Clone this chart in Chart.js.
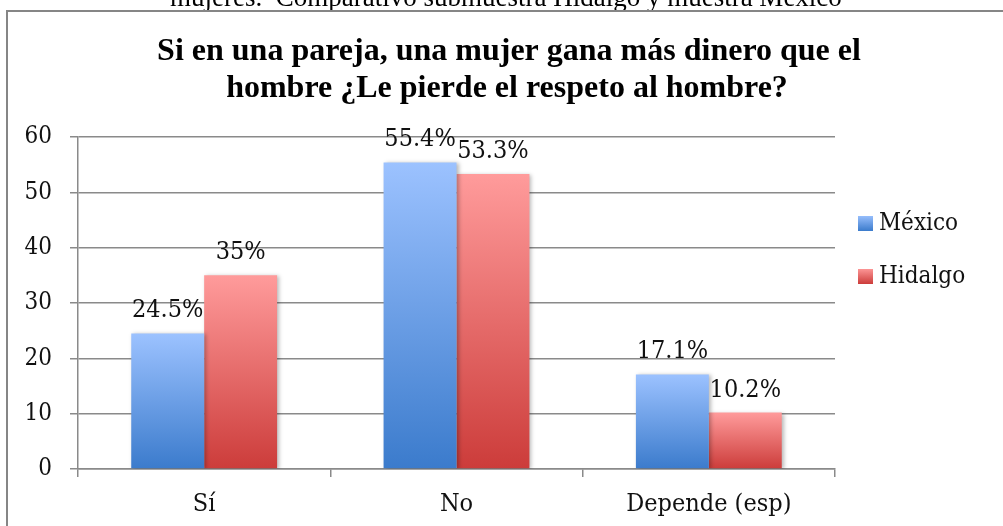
<!DOCTYPE html>
<html>
<head>
<meta charset="utf-8">
<script src="https://cdn.jsdelivr.net/npm/chart.js@4"></script>
<style>
  html, body { margin: 0; padding: 0; background: #fff; }
  #wrap { position: relative; width: 1003px; height: 526px; }
</style>
</head>
<body>
<div id="wrap"><canvas id="chart" width="1003" height="526"></canvas></div>
<script>
// chart data
const categories = ['Sí', 'No', 'Depende (esp)'];
const mexicoValues = [24.5, 55.4, 17.1];
const hidalgoValues = [35, 53.3, 10.2];
const mexicoLabels = ['24.5%', '55.4%', '17.1%'];
const hidalgoLabels = ['35%', '53.3%', '10.2%'];
const yTicks = [0, 10, 20, 30, 40, 50, 60];

const titleLines = ['Si en una pareja, una mujer gana más dinero que el', 'hombre ¿Le pierde el respeto al hombre?'];
const captionText = 'mujeres.  Comparativo submuestra Hidalgo y muestra México';

const SERIF = "'DejaVu Serif Condensed', 'DejaVu Serif', serif";
const colors = {
    mexico: { top: '#9cc2ff', bottom: '#3b7bcc' },
    hidalgo: { top: '#ff9b9b', bottom: '#cc3c3a' },
};

// vertical gradient per bar: light at top, dark at base
function barGradient(key) {
    return (context) => {
        const chart = context.chart;
        if (!chart.chartArea || context.raw == null) return colors[key].top;
        const y = chart.scales.y;
        const top = y.getPixelForValue(context.raw);
        const base = y.getPixelForValue(0);
        const g = chart.ctx.createLinearGradient(0, top, 0, base);
        g.addColorStop(0, colors[key].top);
        g.addColorStop(1, colors[key].bottom);
        return g;
    };
}

const decorPlugin = {
    id: 'decor',
    beforeDraw(chart) {
        const ctx = chart.ctx;
        ctx.save();
        // cut-off caption above the frame
        ctx.fillStyle = '#000';
        ctx.font = "27px 'Liberation Serif', serif";
        ctx.textAlign = 'left';
        ctx.textBaseline = 'alphabetic';
        ctx.fillText(captionText, 170, 6);
        // outer frame (runs off the right and bottom edges)
        ctx.strokeStyle = '#868686';
        ctx.lineWidth = 2;
        ctx.strokeRect(7, 11, 1010, 530);
        // title
        ctx.font = "bold 32px 'Liberation Serif', serif";
        ctx.textAlign = 'center';
        ctx.fillText(titleLines[0], 509, 60);
        ctx.fillText(titleLines[1], 507, 97);
        ctx.restore();
    },
    beforeDatasetDraw(chart) {
        const ctx = chart.ctx;
        ctx.save();
        ctx.shadowColor = 'rgba(0,0,0,0.28)';
        ctx.shadowBlur = 4;
        ctx.shadowOffsetX = 2;
        ctx.shadowOffsetY = 1;
    },
    afterDatasetDraw(chart) {
        chart.ctx.restore();
    },
    afterDatasetsDraw(chart) {
        const ctx = chart.ctx;
        const labelSets = [mexicoLabels, hidalgoLabels];
        ctx.save();
        ctx.fillStyle = '#111';
        ctx.font = '25px ' + SERIF;
        ctx.textAlign = 'center';
        ctx.textBaseline = 'alphabetic';
        chart.data.datasets.forEach((ds, di) => {
            chart.getDatasetMeta(di).data.forEach((bar, i) => {
                ctx.fillText(labelSets[di][i], bar.x, bar.y - 16);
            });
        });
        // legend
        const items = [['México', 'mexico', 223], ['Hidalgo', 'hidalgo', 276]];
        ctx.font = '24px ' + SERIF;
        ctx.textAlign = 'left';
        ctx.textBaseline = 'middle';
        items.forEach(([text, key, cy]) => {
            const g = ctx.createLinearGradient(0, cy - 8, 0, cy + 8);
            g.addColorStop(0, colors[key].top);
            g.addColorStop(1, colors[key].bottom);
            ctx.fillStyle = g;
            ctx.fillRect(858, cy - 7, 15, 15);
            ctx.fillStyle = '#111';
            ctx.fillText(text, 879, cy + 1);
        });
        ctx.restore();
    }
};

const chart = new Chart(document.getElementById('chart'), {
    type: 'bar',
    data: {
        labels: categories,
        datasets: [
            { label: 'México', data: mexicoValues, backgroundColor: barGradient('mexico'), borderWidth: 0 },
            { label: 'Hidalgo', data: hidalgoValues, backgroundColor: barGradient('hidalgo'), borderWidth: 0 },
        ]
    },
    options: {
        responsive: false,
        animation: false,
        events: [],
        layout: { padding: { top: 137, right: 168, left: 0, bottom: 0 } },
        datasets: { bar: { categoryPercentage: 0.578, barPercentage: 1 } },
        scales: {
            x: {
                grid: { drawOnChartArea: false, drawTicks: true, tickLength: 8, color: '#8a8a8a', lineWidth: 1.5 },
                border: { color: '#8a8a8a', width: 1.5 },
                ticks: { color: '#111', font: { family: SERIF, size: 25 }, padding: 12 },
                afterFit(scale) { scale.height = 57; }
            },
            y: {
                min: 0, max: 60,
                afterBuildTicks(scale) { scale.ticks = yTicks.map(v => ({ value: v })); },
                grid: { color: '#8a8a8a', lineWidth: 1.5, tickLength: 8 },
                border: { color: '#8a8a8a', width: 1.5 },
                ticks: { color: '#111', font: { family: SERIF, size: 24 }, padding: 18 },
                afterFit(scale) { scale.width = 78; }
            }
        },
        plugins: {
            legend: { display: false },
            title: { display: false },
            tooltip: { enabled: false }
        }
    },
    plugins: [decorPlugin]
});
</script>
</body>
</html>
